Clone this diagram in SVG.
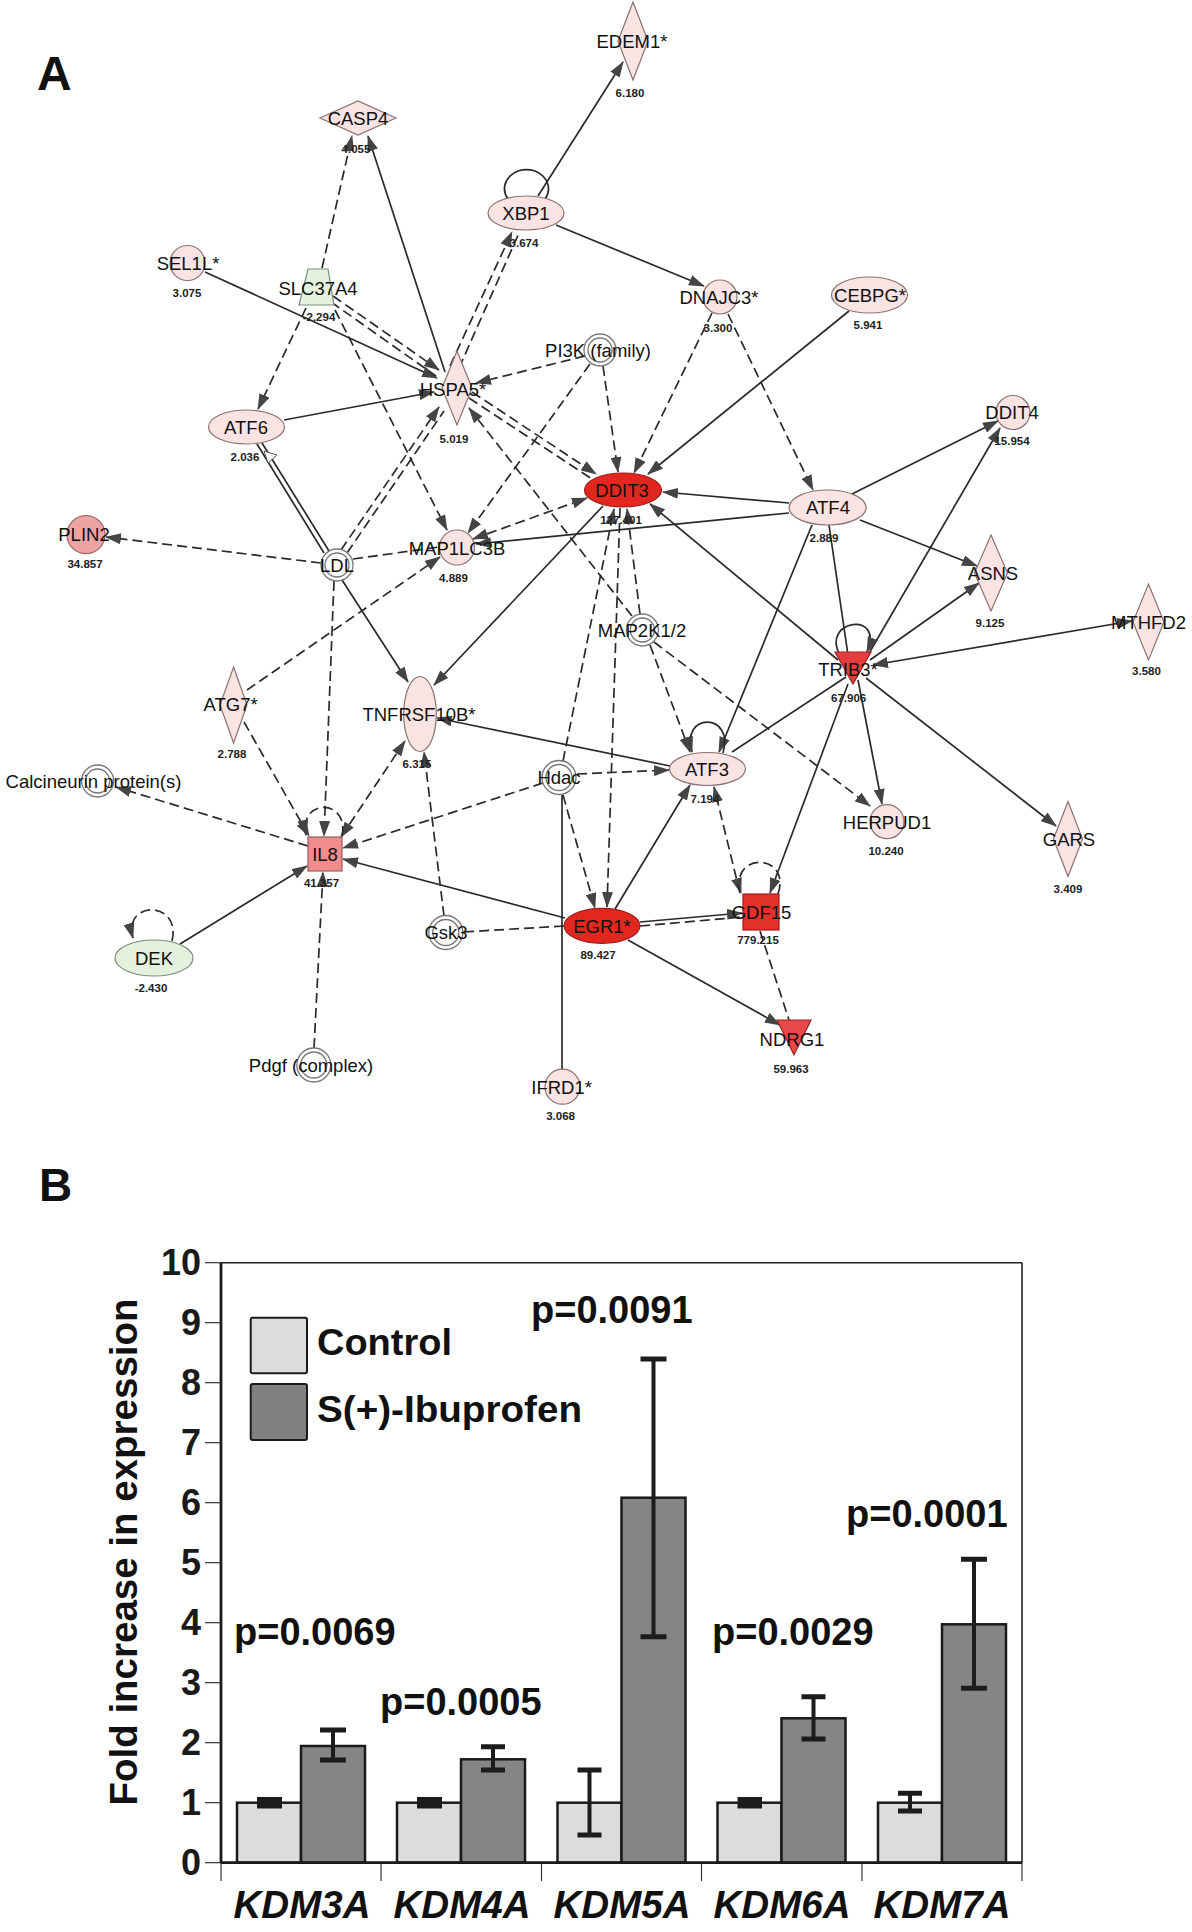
<svg xmlns="http://www.w3.org/2000/svg" width="1192" height="1932" viewBox="0 0 1192 1932">
<defs>
<style>
.s{stroke:#2a2a2a;stroke-width:1.7;fill:none}
.d{stroke:#2a2a2a;stroke-width:1.7;fill:none;stroke-dasharray:10 5}
.a{marker-end:url(#ar)}
.b{marker-start:url(#ar2);marker-end:url(#ar)}
.pk{fill:#fae3e3;stroke:#8a7272;stroke-width:1.2}
.gr{fill:#e4f1df;stroke:#7d8c7a;stroke-width:1.2}
.rd{fill:#e2271f;stroke:#9c1d1d;stroke-width:1.2}
.fam{fill:#fff;stroke:#777;stroke-width:1.3}
.lb{font-family:"Liberation Sans",Arial,sans-serif;font-size:18.5px;fill:#111;text-anchor:middle}
.v{font-family:"Liberation Sans",Arial,sans-serif;font-size:11.5px;font-weight:bold;fill:#222;text-anchor:middle}
.big{font-family:"Liberation Sans",Arial,sans-serif;font-weight:bold;fill:#111}
.tk{font-family:"Liberation Sans",Arial,sans-serif;font-weight:bold;font-size:36px;fill:#1a1a1a;text-anchor:end}
.pv{font-family:"Liberation Sans",Arial,sans-serif;font-weight:bold;font-size:38px;fill:#111}
.cat{font-family:"Liberation Sans",Arial,sans-serif;font-weight:bold;font-style:italic;font-size:38.5px;fill:#111;text-anchor:middle}
.bc{fill:#dcdcdc;stroke:#1a1a1a;stroke-width:2.5}
.bi{fill:#858585;stroke:#1a1a1a;stroke-width:2.5}
.eb{stroke:#1c1c1c;stroke-width:4;fill:none}
.ec{stroke:#1c1c1c;stroke-width:5;fill:none}
</style>
<marker id="ar" viewBox="0 0 16 11" refX="15" refY="5.5" markerWidth="16" markerHeight="11" markerUnits="userSpaceOnUse" orient="auto"><path d="M0,0L16,5.5L0,11z" fill="#444"/></marker>
<marker id="ar2" viewBox="0 0 16 11" refX="15" refY="5.5" markerWidth="16" markerHeight="11" markerUnits="userSpaceOnUse" orient="auto-start-reverse"><path d="M0,0L16,5.5L0,11z" fill="#444"/></marker>
</defs>
<rect width="1192" height="1932" fill="#fff"/>
<text class="big" x="37" y="90" font-size="48">A</text>
<text class="big" x="39" y="1201" font-size="46">B</text>

<g id="connectors">
<line class="s a" x1="538" y1="196" x2="623" y2="62"/>
<path class="s" d="M508,199 A22,19 0 1,1 545,199"/>
<line class="s a" x1="556" y1="225" x2="704" y2="286"/>
<line class="s a" x1="849" y1="311" x2="648" y2="474"/>
<line class="d a" x1="712" y1="313" x2="634" y2="473"/>
<line class="d a" x1="728" y1="314" x2="813" y2="490"/>
<line class="d a" x1="585" y1="356" x2="476" y2="383"/>
<line class="d a" x1="590" y1="364" x2="468" y2="533"/>
<line class="d a" x1="603" y1="366" x2="618" y2="472"/>
<line class="d a" x1="322" y1="268" x2="352" y2="136"/>
<line class="s a" x1="445" y1="372" x2="368" y2="136"/>
<line class="s a" x1="205" y1="272" x2="437" y2="378"/>
<line class="d a" x1="333" y1="296" x2="439" y2="370"/>
<line class="d" x1="331" y1="302" x2="436" y2="376"/>
<line class="d a" x1="306" y1="308" x2="258" y2="409"/>
<line class="d a" x1="335" y1="310" x2="447" y2="530"/>
<line class="d a" x1="450" y1="366" x2="512" y2="232"/>
<line class="d" x1="459" y1="368" x2="519" y2="233"/>
<line class="d a" x1="341" y1="550" x2="439" y2="407"/>
<line class="d" x1="347" y1="553" x2="444" y2="411"/>
<line class="s a" x1="284" y1="420" x2="434" y2="392"/>
<line class="s" x1="257" y1="444" x2="324" y2="553"/>
<line class="s" x1="262" y1="443" x2="329" y2="551"/>
<polygon points="264,451 277,455 268,463" fill="#fff" stroke="#555" stroke-width="1"/>
<line class="d a" x1="321" y1="563" x2="106" y2="537"/>
<line class="d" x1="353" y1="559" x2="439" y2="547"/>
<line class="s a" x1="342" y1="580" x2="408" y2="682"/>
<line class="d a" x1="334" y1="581" x2="324" y2="836"/>
<line class="d a" x1="247" y1="690" x2="440" y2="557"/>
<line class="d a" x1="244" y1="722" x2="309" y2="836"/>
<line class="d a" x1="472" y1="392" x2="596" y2="474"/>
<line class="d" x1="469" y1="398" x2="592" y2="479"/>
<line class="d a" x1="632" y1="616" x2="469" y2="408"/>
<line class="d b" x1="473" y1="539" x2="587" y2="498"/>
<line class="s a" x1="789" y1="513" x2="476" y2="544"/>
<line class="s a" x1="789" y1="503" x2="663" y2="492"/>
<line class="s a" x1="852" y1="494" x2="998" y2="421"/>
<line class="s a" x1="860" y1="520" x2="977" y2="566"/>
<line class="s a" x1="812" y1="525" x2="719" y2="752"/>
<line class="s" x1="829" y1="525" x2="849" y2="662"/>
<line class="s a" x1="838" y1="660" x2="650" y2="504"/>
<line class="s a" x1="868" y1="655" x2="1000" y2="428"/>
<line class="s a" x1="870" y1="660" x2="979" y2="583"/>
<line class="s b" x1="873" y1="665" x2="1132" y2="621"/>
<path class="s a" d="M840,655 C820,620 885,610 867,652"/>
<line class="s" x1="846" y1="677" x2="732" y2="752"/>
<line class="s a" x1="858" y1="680" x2="882" y2="804"/>
<line class="s a" x1="866" y1="678" x2="1056" y2="826"/>
<line class="s a" x1="848" y1="684" x2="770" y2="893"/>
<line class="s a" x1="603" y1="506" x2="434" y2="685"/>
<line class="d a" x1="640" y1="614" x2="627" y2="509"/>
<line class="d a" x1="563" y1="761" x2="614" y2="509"/>
<line class="d a" x1="620" y1="508" x2="607" y2="907"/>
<line class="s a" x1="615" y1="909" x2="690" y2="785"/>
<line class="s a" x1="640" y1="922" x2="742" y2="913"/>
<line class="d" x1="640" y1="926" x2="742" y2="917"/>
<line class="s a" x1="628" y1="940" x2="780" y2="1025"/>
<line class="s a" x1="565" y1="918" x2="343" y2="859"/>
<line class="d" x1="564" y1="926" x2="463" y2="932"/>
<line class="d a" x1="444" y1="916" x2="424" y2="752"/>
<line class="d a" x1="543" y1="783" x2="343" y2="848"/>
<line class="d a" x1="577" y1="774" x2="669" y2="770"/>
<line class="d a" x1="563" y1="795" x2="595" y2="908"/>
<line class="s" x1="562" y1="795" x2="562" y2="1069"/>
<line class="d b" x1="341" y1="837" x2="405" y2="741"/>
<line class="d a" x1="308" y1="846" x2="116" y2="787"/>
<line class="d a" x1="314" y1="1048" x2="323" y2="872"/>
<path class="d a" d="M342,836 C350,798 298,798 306,835"/>
<line class="s a" x1="180" y1="944" x2="307" y2="866"/>
<path class="d a" d="M172,941 C182,900 122,900 133,938"/>
<path class="d a" d="M778,894 C792,852 728,852 741,893"/>
<line class="d" x1="760" y1="931" x2="789" y2="1020"/>
<line class="d a" x1="740" y1="893" x2="714" y2="787"/>
<line class="d a" x1="650" y1="645" x2="690" y2="752"/>
<line class="d a" x1="654" y1="642" x2="870" y2="806"/>
<path class="s a" d="M723,753 C735,712 680,712 692,752"/>
<line class="s a" x1="670" y1="766" x2="437" y2="718"/>
</g>

<g id="n-EDEM1"><path class="pk" d="M633,2L648,41L633,80L618,41Z"/><text class="lb" x="632" y="48">EDEM1*</text><text class="v" x="630" y="97">6.180</text></g>
<g id="n-CASP4"><path class="pk" d="M320,118L358,101L396,118L358,135Z"/><text class="lb" x="358" y="125">CASP4</text><text class="v" x="356" y="153">4.055</text></g>
<g id="n-XBP1"><ellipse class="pk" cx="526" cy="213" rx="38" ry="17"/><text class="lb" x="526" y="220">XBP1</text><text class="v" x="524" y="247">3.674</text></g>
<g id="n-SEL1L"><circle class="pk" cx="187.5" cy="263" r="17.5"/><text class="lb" x="188" y="270">SEL1L*</text><text class="v" x="187" y="297">3.075</text></g>
<g id="n-SLC37A4"><polygon class="gr" points="308,269 328,269 334,305 299,305"/><text class="lb" x="318" y="295">SLC37A4</text><text class="v" x="319" y="321">-2.294</text></g>
<g id="n-CEBPG"><ellipse class="pk" cx="869.5" cy="295" rx="38" ry="18"/><text class="lb" x="870" y="302">CEBPG*</text><text class="v" x="868" y="329">5.941</text></g>
<g id="n-DNAJC3"><circle class="pk" cx="720" cy="297" r="17"/><text class="lb" x="719" y="304">DNAJC3*</text><text class="v" x="718" y="332">3.300</text></g>
<g id="n-PI3K"><circle class="fam" cx="600" cy="350" r="16"/><circle class="fam" cx="600" cy="350" r="12"/><text class="lb" x="598" y="357">PI3K (family)</text></g>
<g id="n-HSPA5"><path class="pk" d="M457,351L472,388L457,425L442,388Z"/><text class="lb" x="453" y="396">HSPA5*</text><text class="v" x="454" y="443">5.019</text></g>
<g id="n-ATF6"><ellipse class="pk" cx="246.5" cy="427" rx="38" ry="17"/><text class="lb" x="246" y="434">ATF6</text><text class="v" x="245" y="461">2.036</text></g>
<g id="n-DDIT3"><ellipse class="rd" cx="623" cy="490" rx="38.5" ry="17"/><text class="lb" x="622" y="497">DDIT3</text><text class="v" x="621" y="524">127.401</text></g>
<g id="n-ATF4"><ellipse class="pk" cx="827.6" cy="507.5" rx="38.5" ry="17.5"/><text class="lb" x="828" y="514">ATF4</text><text class="v" x="824" y="542">2.889</text></g>
<g id="n-DDIT4"><circle class="pk" cx="1013" cy="412.5" r="17"/><text class="lb" x="1012" y="419">DDIT4</text><text class="v" x="1012" y="445">15.954</text></g>
<g id="n-PLIN2"><circle cx="86" cy="534.7" r="19" fill="#f0a3a3" stroke="#9a6a6a" stroke-width="1.2"/><text class="lb" x="84" y="541">PLIN2</text><text class="v" x="85" y="568">34.857</text></g>
<g id="n-LDL"><circle class="fam" cx="337" cy="565" r="16"/><circle class="fam" cx="337" cy="565" r="12"/><text class="lb" x="337" y="572">LDL</text></g>
<g id="n-MAP1LC3B"><circle class="pk" cx="457" cy="547.5" r="17.5"/><text class="lb" x="457" y="555">MAP1LC3B</text><text class="v" x="453.5" y="582">4.889</text></g>
<g id="n-ASNS"><path class="pk" d="M991,535L1007.5,573L991,611L974.5,573Z"/><text class="lb" x="993" y="580">ASNS</text><text class="v" x="990" y="627">9.125</text></g>
<g id="n-MTHFD2"><path class="pk" d="M1148.5,584L1164,622L1148.5,660L1133,622Z"/><text class="lb" x="1148.5" y="629">MTHFD2</text><text class="v" x="1146.5" y="675">3.580</text></g>
<g id="n-MAP2K12"><circle class="fam" cx="642.4" cy="630" r="16"/><circle class="fam" cx="642.4" cy="630" r="12"/><text class="lb" x="642" y="637">MAP2K1/2</text></g>
<g id="n-TRIB3"><polygon points="835,652 871,652 853,684" fill="#e63c3c" stroke="#9c2020" stroke-width="1.2"/><text class="lb" x="848" y="676">TRIB3*</text><text class="v" x="848.6" y="702">67.906</text></g>
<g id="n-ATG7"><path class="pk" d="M233.6,667L247,705L233.6,743L220,705Z"/><text class="lb" x="230.6" y="711">ATG7*</text><text class="v" x="232" y="758">2.788</text></g>
<g id="n-TNFRSF10B"><ellipse class="pk" cx="420" cy="714" rx="16.3" ry="37.5"/><text class="lb" x="419" y="721">TNFRSF10B*</text><text class="v" x="417" y="768">6.315</text></g>
<g id="n-HERPUD1"><circle class="pk" cx="887" cy="821.7" r="17"/><text class="lb" x="887" y="829">HERPUD1</text><text class="v" x="886" y="855">10.240</text></g>
<g id="n-ATF3"><ellipse class="pk" cx="707.5" cy="769" rx="38" ry="16.5"/><text class="lb" x="707" y="776">ATF3</text><text class="v" x="705" y="803">7.194</text></g>
<g id="n-Calcineurin"><circle class="fam" cx="97.6" cy="781" r="16"/><circle class="fam" cx="97.6" cy="781" r="12"/><text class="lb" x="93.5" y="788">Calcineurin protein(s)</text></g>
<g id="n-Hdac"><circle class="fam" cx="559" cy="777.5" r="17"/><circle class="fam" cx="559" cy="777.5" r="13"/><text class="lb" x="559" y="784">Hdac</text></g>
<g id="n-GARS"><path class="pk" d="M1068,801.5L1082.5,839L1068,876.5L1053.5,839Z"/><text class="lb" x="1069" y="846">GARS</text><text class="v" x="1068" y="893">3.409</text></g>
<g id="n-IL8"><rect x="308" y="837" width="34" height="34" fill="#f08c8c" stroke="#9a5a5a" stroke-width="1.2"/><text class="lb" x="325" y="861">IL8</text><text class="v" x="321.5" y="887">41.357</text></g>
<g id="n-GDF15"><rect x="743" y="894" width="36" height="36" fill="#e3302a" stroke="#9c1d1d" stroke-width="1.2"/><text class="lb" x="761.5" y="919">GDF15</text><text class="v" x="758" y="944">779.215</text></g>
<g id="n-EGR1"><ellipse class="rd" cx="602" cy="925.8" rx="38" ry="17.5"/><text class="lb" x="602" y="933">EGR1*</text><text class="v" x="598" y="959">89.427</text></g>
<g id="n-Gsk3"><circle class="fam" cx="445.8" cy="932.5" r="17"/><circle class="fam" cx="445.8" cy="932.5" r="13"/><text class="lb" x="446" y="939">Gsk3</text></g>
<g id="n-DEK"><ellipse class="gr" cx="154" cy="958" rx="39" ry="18"/><text class="lb" x="154" y="965">DEK</text><text class="v" x="151" y="992">-2.430</text></g>
<g id="n-NDRG1"><polygon points="777,1020 811,1020 794,1055" fill="#e94848" stroke="#9c2020" stroke-width="1.2"/><text class="lb" x="792" y="1046">NDRG1</text><text class="v" x="791" y="1073">59.963</text></g>
<g id="n-Pdgf"><circle class="fam" cx="313.8" cy="1065" r="17"/><circle class="fam" cx="313.8" cy="1065" r="13"/><text class="lb" x="311" y="1072">Pdgf (complex)</text></g>
<g id="n-IFRD1"><circle class="pk" cx="562.5" cy="1086.7" r="17.5"/><text class="lb" x="561.6" y="1094">IFRD1*</text><text class="v" x="560.6" y="1120">3.068</text></g>

<g id="chart">
<line x1="221" y1="1262.7" x2="1022" y2="1262.7" stroke="#222" stroke-width="1.6"/>
<line x1="1022" y1="1262.7" x2="1022" y2="1862.7" stroke="#222" stroke-width="1.6"/>
<g stroke="#333" stroke-width="1.2">
<line x1="205" y1="1262.7" x2="221" y2="1262.7"/><line x1="205" y1="1322.7" x2="221" y2="1322.7"/><line x1="205" y1="1382.7" x2="221" y2="1382.7"/><line x1="205" y1="1442.7" x2="221" y2="1442.7"/><line x1="205" y1="1502.7" x2="221" y2="1502.7"/><line x1="205" y1="1562.7" x2="221" y2="1562.7"/><line x1="205" y1="1622.7" x2="221" y2="1622.7"/><line x1="205" y1="1682.7" x2="221" y2="1682.7"/><line x1="205" y1="1742.7" x2="221" y2="1742.7"/><line x1="205" y1="1802.7" x2="221" y2="1802.7"/><line x1="205" y1="1862.7" x2="221" y2="1862.7"/>
<line x1="221" y1="1862.7" x2="221" y2="1881"/><line x1="381" y1="1862.7" x2="381" y2="1881"/><line x1="541.5" y1="1862.7" x2="541.5" y2="1881"/><line x1="701.5" y1="1862.7" x2="701.5" y2="1881"/><line x1="862" y1="1862.7" x2="862" y2="1881"/><line x1="1022" y1="1862.7" x2="1022" y2="1881"/>
</g>
<text class="tk" x="201" y="1275">10</text><text class="tk" x="201" y="1335">9</text><text class="tk" x="201" y="1395">8</text><text class="tk" x="201" y="1455">7</text><text class="tk" x="201" y="1515">6</text><text class="tk" x="201" y="1575">5</text><text class="tk" x="201" y="1635">4</text><text class="tk" x="201" y="1695">3</text><text class="tk" x="201" y="1755">2</text><text class="tk" x="201" y="1815">1</text><text class="tk" x="201" y="1875">0</text>
<text class="big" font-size="38.5" text-anchor="middle" transform="translate(137,1552) rotate(-90)">Fold increase in expression</text>

<rect x="250.7" y="1317.7" width="56.3" height="55.6" rx="2" fill="#dcdcdc" stroke="#1a1a1a" stroke-width="2"/>
<rect x="250.7" y="1384" width="56.3" height="56" rx="2" fill="#808080" stroke="#1a1a1a" stroke-width="2"/>
<text class="big" x="317" y="1355" font-size="37" textLength="135" lengthAdjust="spacingAndGlyphs">Control</text>
<text class="big" x="317" y="1422" font-size="37" textLength="265" lengthAdjust="spacingAndGlyphs">S(+)-Ibuprofen</text>

<rect class="bc" x="237" y="1802.7" width="64" height="60"/><rect class="bi" x="301" y="1746" width="64" height="116.7"/>
<rect class="bc" x="397" y="1802.7" width="64" height="60"/><rect class="bi" x="461" y="1759.3" width="64" height="103.4"/>
<rect class="bc" x="557.5" y="1802.7" width="64" height="60"/><rect class="bi" x="621.5" y="1497.7" width="64" height="365"/>
<rect class="bc" x="717.5" y="1802.7" width="64" height="60"/><rect class="bi" x="781.5" y="1718.3" width="64" height="144.4"/>
<rect class="bc" x="878" y="1802.7" width="64" height="60"/><rect class="bi" x="942" y="1624.3" width="64" height="238.4"/>

<rect x="257" y="1797" width="25" height="11.5" fill="#1c1c1c"/>
<rect x="417" y="1797" width="25" height="11.5" fill="#1c1c1c"/>
<rect x="737.5" y="1797" width="24.5" height="11.5" fill="#1c1c1c"/>
<path class="eb" d="M333,1730V1760M493,1746.7V1770M589.5,1770V1835M653.5,1359V1636.7M813.5,1696.7V1739M910,1793.3V1811M974,1559.3V1688.3"/>
<path class="ec" d="M320,1730H346M320,1760H346M481,1746.7H505M481,1770H505M577.5,1770H601.5M577.5,1835H601.5M640.5,1359H666.5M640.5,1636.7H666.5M801.5,1696.7H825.5M801.5,1739H825.5M898,1793.3H922M898,1811H922M961,1559.3H987M961,1688.3H987"/>

<line x1="221" y1="1262.7" x2="221" y2="1862.7" stroke="#1a1a1a" stroke-width="2.8"/>
<line x1="221" y1="1862.7" x2="1022" y2="1862.7" stroke="#1a1a1a" stroke-width="2.8"/>

<text class="pv" x="531" y="1323">p=0.0091</text>
<text class="pv" x="846" y="1527">p=0.0001</text>
<text class="pv" x="234" y="1645">p=0.0069</text>
<text class="pv" x="380" y="1715">p=0.0005</text>
<text class="pv" x="712" y="1645">p=0.0029</text>

<text class="cat" x="302" y="1918">KDM3A</text>
<text class="cat" x="462" y="1918">KDM4A</text>
<text class="cat" x="622" y="1918">KDM5A</text>
<text class="cat" x="782" y="1918">KDM6A</text>
<text class="cat" x="942" y="1918">KDM7A</text>
</g>
</svg>
